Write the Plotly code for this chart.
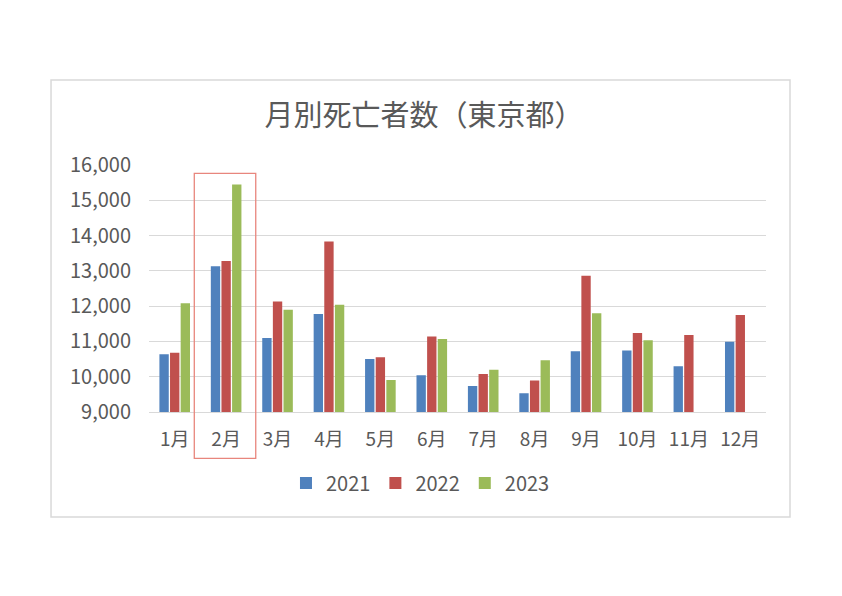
import plotly.graph_objects as go

months = ["1月", "2月", "3月", "4月", "5月", "6月", "7月", "8月", "9月", "10月", "11月", "12月"]
deaths_2021 = [10640, 13130, 11100, 11780, 10500, 10040, 9740, 9530, 10720, 10740, 10300, 10990]
deaths_2022 = [10680, 13280, 12130, 13830, 10550, 11140, 10080, 9890, 12860, 11240, 11180, 11750]
deaths_2023 = [12080, 15450, 11900, 12040, 9910, 11070, 10200, 10470, 11800, 11030, None, None]

font = "Noto Sans CJK JP"
grey = "#595959"

fig = go.Figure()
for name, vals, col in [("2021", deaths_2021, "#4F81BD"),
                        ("2022", deaths_2022, "#C0504D"),
                        ("2023", deaths_2023, "#9BBB59")]:
    fig.add_trace(go.Bar(x=months, y=vals, name=name, marker_color=col,
                         marker_line_width=0))

# outer chart border
fig.add_shape(type="rect", xref="paper", yref="paper",
              x0=-0.1588, x1=1.0389, y0=-0.425, y1=1.344,
              line=dict(color="#d9d9d9", width=1.5), layer="below")
# highlight box around February
fig.add_shape(type="rect", xref="paper", yref="paper",
              x0=0.0734, x1=0.173, y0=-0.1875, y1=0.966,
              line=dict(color="#E8867D", width=1.3))

fig.update_layout(
    width=842, height=596,
    margin=dict(l=141, r=84, t=157, b=192),
    paper_bgcolor="white", plot_bgcolor="white",
    font=dict(family=font, color=grey, size=19),
    title=dict(text="月別死亡者数（東京都）", x=416 / 842, xanchor="center",
               y=1 - 108 / 596, yanchor="middle",
               font=dict(size=29, color=grey, family=font)),
    barmode="group", bargap=0.38, bargroupgap=0.12,
    showlegend=True,
    legend=dict(orientation="h", x=0.44, xanchor="center", y=-0.287, yanchor="middle",
                font=dict(size=20, color=grey), itemwidth=30, traceorder="normal"),
)
fig.update_yaxes(range=[9000, 16000], dtick=1000, tickformat=",d",
                 gridcolor="#d9d9d9", gridwidth=1, zeroline=False,
                 showline=False, ticklabelstandoff=17, tickfont=dict(size=20))
fig.update_xaxes(showline=True, linecolor="#d9d9d9", linewidth=1,
                 ticklabelstandoff=10, tickfont=dict(size=19))

fig.write_html("out.html")
